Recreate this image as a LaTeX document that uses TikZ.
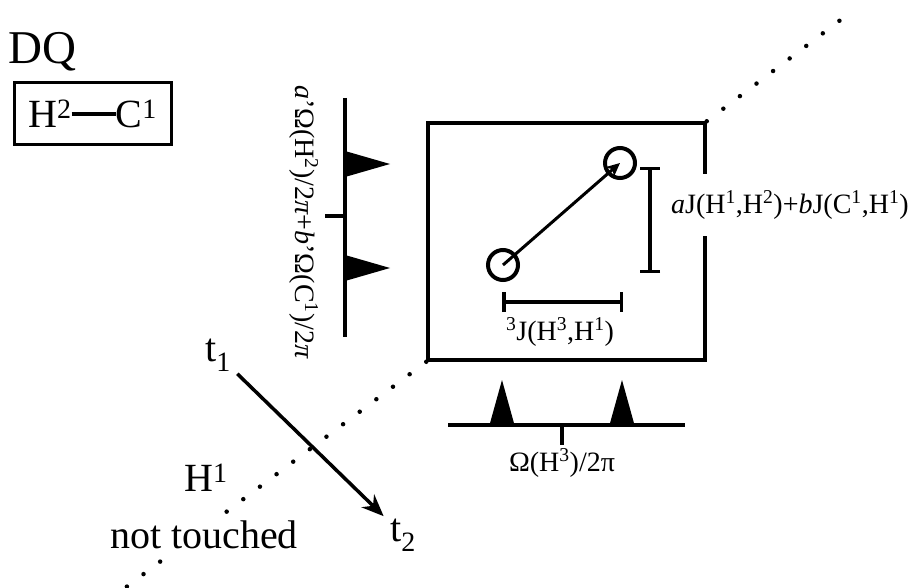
\documentclass[tikz,border=0pt]{standalone}
\usepackage{fontspec}
\setmainfont{Liberation Serif}
\usepackage{tikz}
\usetikzlibrary{arrows.meta, positioning}

\newcommand{\hugesize}{\fontsize{47}{56}\selectfont}
\newcommand{\bigsize}{\fontsize{40}{48}\selectfont}
\newcommand{\labsize}{\fontsize{28}{34}\selectfont}

\begin{document}
\begin{tikzpicture}[x=1pt, y=-1pt,
    every node/.style={inner sep=0pt},
    specline/.style={line width=4pt},
    boxline/.style={draw, line width=3.5pt},
    peak/.style={fill=black},
    dimbar/.style={line width=3.5pt, {Bar[width=20pt]}-{Bar[width=20pt]}},
    diag/.style={line width=4.5pt, line cap=round, dash pattern=on 0pt off 20.8pt},
    spot/.style={circle, draw, line width=4pt, minimum size=30pt}]
  \useasboundingbox (0,0) rectangle (917,588);

  % top left: DQ and the pair
  \node[font=\hugesize, anchor=west] (dq) at (8,52) {DQ};
  \node[boxline, line width=3pt, font=\bigsize, minimum width=157pt, minimum height=62pt]
       (pair) at (92.5,114) {H\textsuperscript{2}\raisebox{0.3em}{\rule{1.1em}{0.09em}}C\textsuperscript{1}};

  % 2D spectrum box and diagonal
  \node[boxline, minimum width=277pt, minimum height=237pt] (spec) at (566.5,241.5) {};
  \coordinate (diagne) at (851,12);
  \coordinate (diagsw) at (125,588);
  \draw[diag] (spec.north east) -- (diagne);
  \draw[diag] (spec.south west) -- (diagsw);

  % cross peaks
  \node[spot] (lo) at (503,265) {};
  \node[spot] (up) at (620,163) {};
  \draw[line width=3pt, -{Stealth[length=14pt, width=13pt]}] (lo.center) -- (up.center);
  \coordinate (vtop) at (650,167);
  \coordinate (vbot) at (650,273);
  \draw[dimbar] (vtop) -- (vbot);
  \coordinate (hleft) at (502,302);
  \coordinate (hright) at (623,302);
  \draw[dimbar] (hleft) -- (hright);
  \node[font=\labsize, fill=white, inner xsep=1pt, inner ysep=17pt, anchor=west] (jsum) at (670,205)
       {\textit{a}J(H\textsuperscript{1},H\textsuperscript{2})+\textit{b}J(C\textsuperscript{1},H\textsuperscript{1})};
  \node[font=\labsize] (jthree) at (560,332) {\textsuperscript{3}J(H\textsuperscript{3},H\textsuperscript{1})};

  % bottom projection
  \draw[specline] (448,425) -- (685,425);
  \foreach \x in {502,622} \fill[peak] (\x-12.5,425) -- (\x,380) -- (\x+12.5,425) -- cycle;
  \draw[specline] (562,425) -- (562,445);
  \node[font=\labsize] (omthree) at (562,463) {Ω(H\textsuperscript{3})/2π};

  % left projection
  \draw[specline] (345,98) -- (345,337);
  \foreach \y in {164,268} \fill[peak] (345,\y-13) -- (390,\y) -- (345,\y+13) -- cycle;
  \draw[specline] (325,216) -- (345,216);
  \node[font=\labsize, rotate=-90] (omdq) at (304,222)
       {\textit{a}'Ω(H\textsuperscript{2})/2\textit{π}+\textit{b}'Ω(C\textsuperscript{1})/2\textit{π}};

  % time axes
  \node[font=\bigsize] (t1) at (218,355) {t\textsubscript{1}};
  \node[font=\bigsize] (t2) at (403,535) {t\textsubscript{2}};
  \draw[line width=3.5pt, -{Stealth[length=22pt, width=18pt]}, shorten <=27pt, shorten >=27pt]
       (t1.center) -- (t2.center);
  \node[font=\bigsize] (hone) at (206,478) {H\textsuperscript{1}};
  \node[font=\bigsize, fill=white, inner xsep=1pt, inner ysep=7pt] (untouched) at (204,535) {not touched};
\end{tikzpicture}
\end{document}
